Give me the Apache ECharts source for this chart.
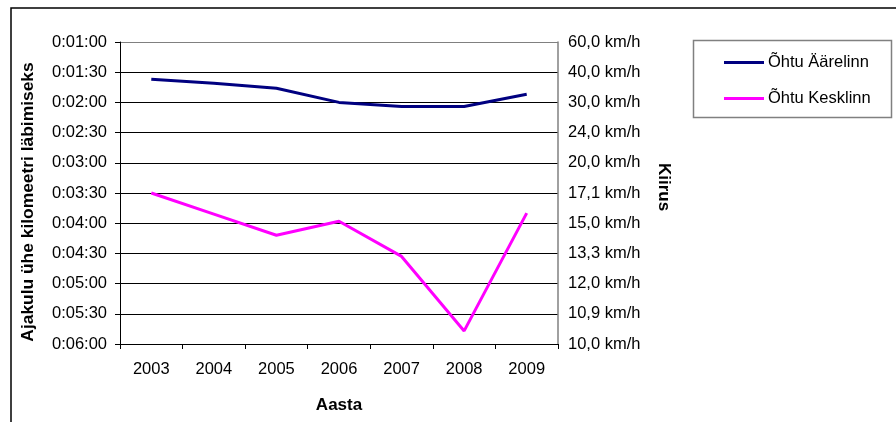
<!DOCTYPE html>
<html>
<head>
<meta charset="utf-8">
<script src="https://cdn.jsdelivr.net/npm/echarts@6/dist/echarts.min.js"></script>
<style>
html,body{margin:0;padding:0;background:#fff;}
#c{width:896px;height:422px;}
</style>
</head>
<body>
<div id="c"></div>
<script>
// Data (seconds per km)
const years = ['2003','2004','2005','2006','2007','2008','2009'];
const aarelinn = [97, 101, 106, 120, 124, 124, 112];
const kesklinn = [210, 231, 252, 238, 273, 347, 230];
// Axis tick labels
const timeLabels = ['0:01:00','0:01:30','0:02:00','0:02:30','0:03:00','0:03:30','0:04:00','0:04:30','0:05:00','0:05:30','0:06:00'];
const speedLabels = ['60,0 km/h','40,0 km/h','30,0 km/h','24,0 km/h','20,0 km/h','17,1 km/h','15,0 km/h','13,3 km/h','12,0 km/h','10,9 km/h','10,0 km/h'];
const leftTitle = 'Ajakulu ühe kilomeetri läbimiseks';

const FONT = 'Liberation Sans, Arial, sans-serif';
const FS = 16.5;
const chart = echarts.init(document.getElementById('c'), null, {renderer:'canvas'});
const idx = v => Math.round((v - 60) / 30);

chart.setOption({
  animation: false,
  textStyle: {fontFamily: FONT},
  grid: {left: 120, right: 338, top: 42, bottom: 78, containLabel: false},
  graphic: [
    {type:'polyline', silent:true, shape:{points:[[11,422],[11,8],[896,8]]}, style:{stroke:'#000', lineWidth:1.5, fill:null}},
    {type:'rect', silent:true, shape:{x:693.5, y:40.5, width:198, height:77}, style:{stroke:'#808080', lineWidth:1.5, fill:'#fff'}, z:-1},
    {type:'text', silent:true, x:28, y:202, rotation: Math.PI/2,
     style:{text: leftTitle, font: 'bold 17.4px ' + FONT, fill:'#000', align:'center', verticalAlign:'middle'}}
  ],
  legend: {
    left: 719, top: 49, orient: 'vertical', itemWidth: 40, itemHeight: 3, itemGap: 19,
    icon: 'rect',
    textStyle: {fontSize: FS, color: '#000', fontFamily: FONT, padding:[0,0,0,-1]},
    data: ['Õhtu Äärelinn','Õhtu Kesklinn']
  },
  xAxis: {
    type: 'category', data: years, boundaryGap: true,
    name: 'Aasta', nameLocation: 'middle', nameGap: 53,
    nameTextStyle: {fontSize: 17, fontWeight: 'bold', color: '#000', fontFamily: FONT},
    axisLine: {lineStyle: {color: '#000', width: 1}},
    axisTick: {show: true, length: 5, lineStyle: {color: '#000'}},
    axisLabel: {fontSize: FS, color: '#000', margin: 17, fontFamily: FONT},
    splitLine: {show: false}
  },
  yAxis: [
    {
      type: 'value', min: 60, max: 360, interval: 30, inverse: true, position: 'left',
      axisLine: {show: true, lineStyle: {color: '#000', width: 1}},
      axisTick: {show: true, length: 5, lineStyle: {color: '#000'}},
      axisLabel: {fontSize: FS, color: '#000', margin: 13, fontFamily: FONT, formatter: v => timeLabels[idx(v)]},
      splitLine: {show: true, lineStyle: {color: ['#808080','#000','#000','#000','#000','#000','#000','#000','#000','#000','#000'], width: 1}}
    },
    {
      type: 'value', min: 60, max: 360, interval: 30, inverse: true, position: 'right',
      name: 'Kiirus', nameLocation: 'middle', nameGap: 97, nameRotate: -90,
      nameTextStyle: {fontSize: 17, fontWeight: 'bold', color: '#000', fontFamily: FONT, padding: [0, 12, 0, 0]},
      axisLine: {show: true, lineStyle: {color: '#808080', width: 1.5}},
      axisTick: {show: false},
      axisLabel: {fontSize: FS, color: '#000', margin: 10, fontFamily: FONT, formatter: v => speedLabels[idx(v)]},
      splitLine: {show: false}
    }
  ],
  series: [
    {name: 'Õhtu Äärelinn', type: 'line', data: aarelinn, showSymbol: false, symbol: 'none',
     lineStyle: {color: '#000080', width: 3}, itemStyle: {color: '#000080'}},
    {name: 'Õhtu Kesklinn', type: 'line', data: kesklinn, showSymbol: false, symbol: 'none',
     lineStyle: {color: '#FF00FF', width: 3}, itemStyle: {color: '#FF00FF'}}
  ]
});
</script>
</body>
</html>
